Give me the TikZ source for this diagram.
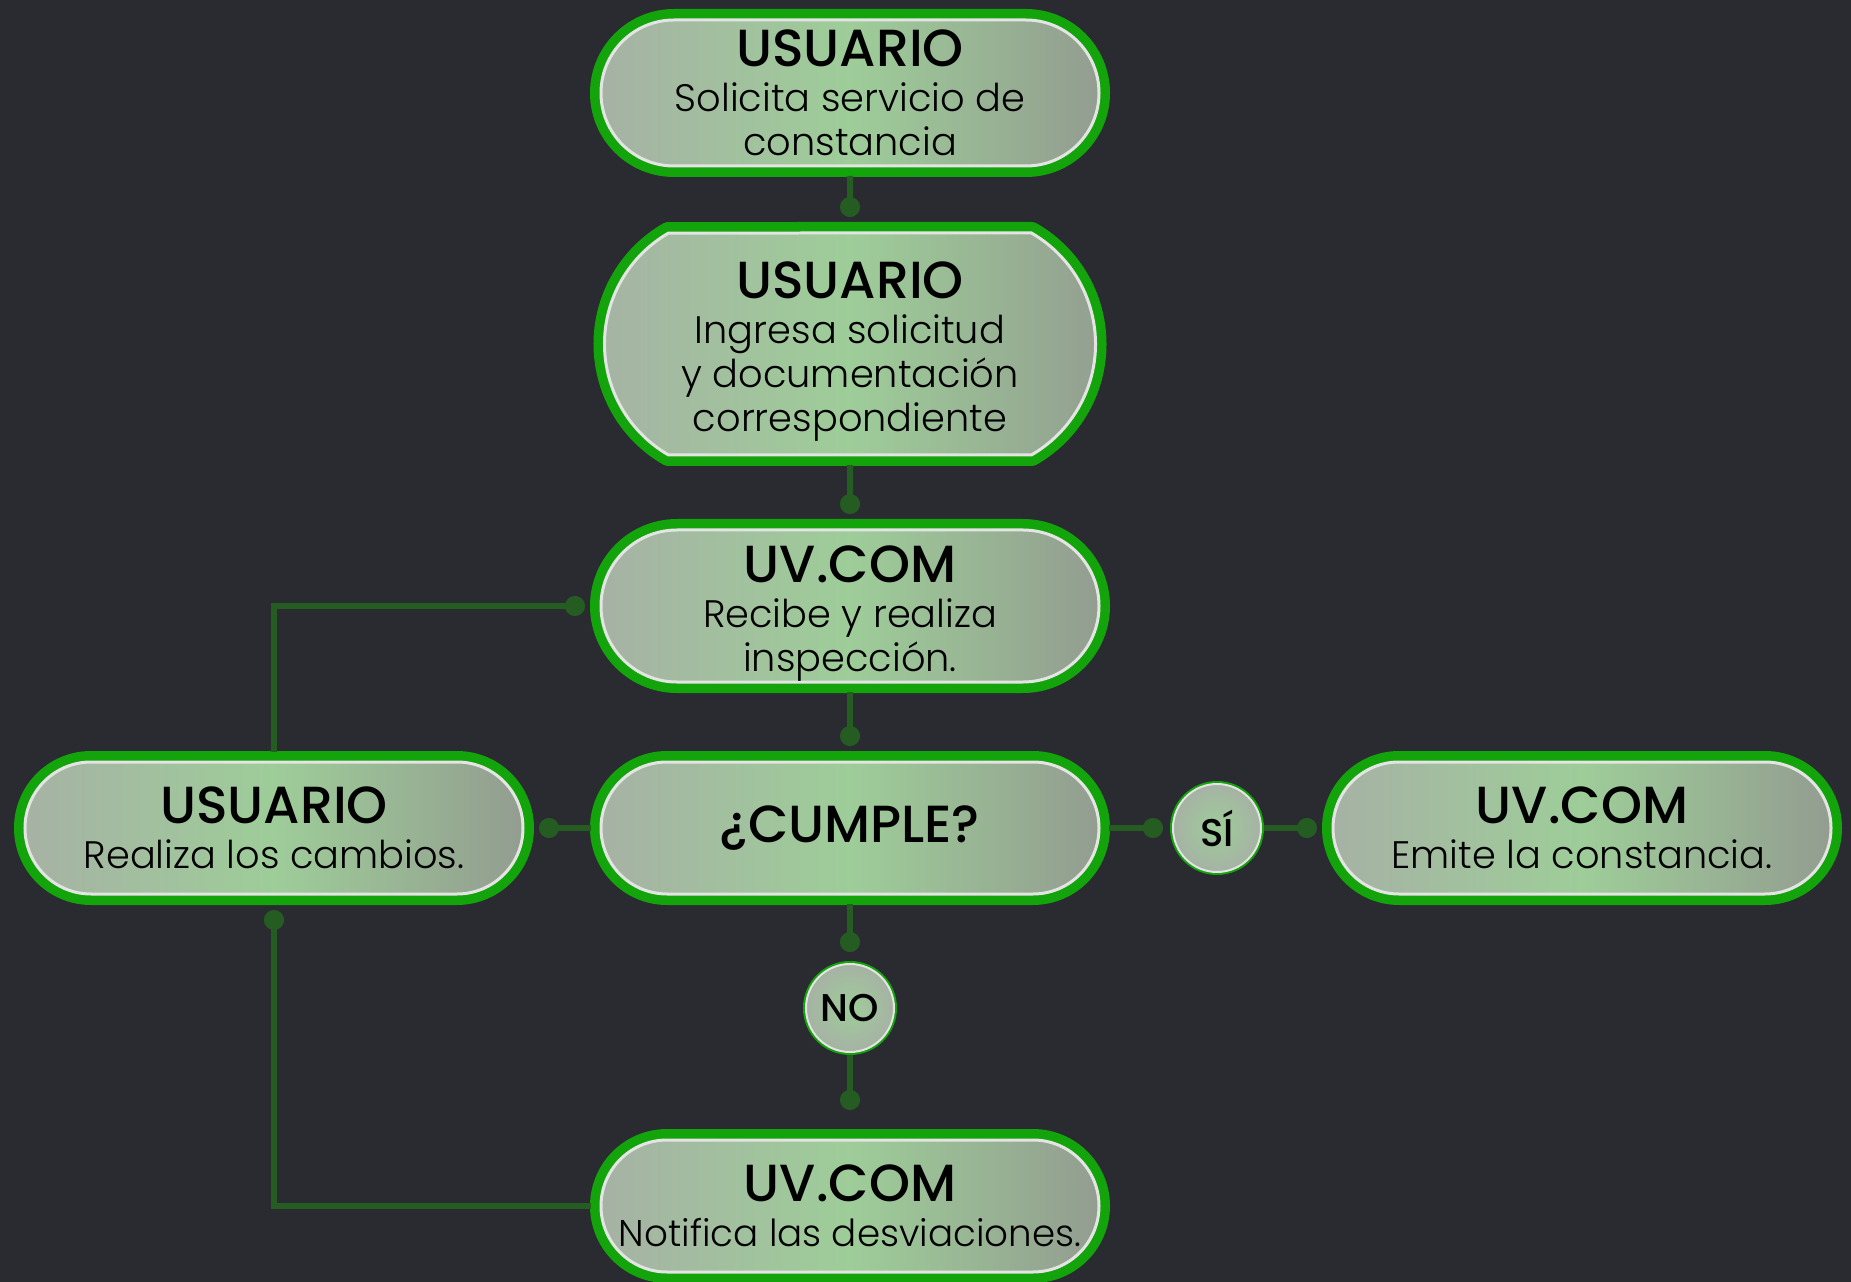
\documentclass[tikz,border=0pt]{standalone}
\usepackage{fontspec}
\setmainfont{Poppins}[UprightFont=* Light, BoldFont=* Medium]
\usetikzlibrary{positioning, arrows.meta, shapes.misc}
\definecolor{fondo}{HTML}{2A2B30}
\definecolor{verdeborde}{HTML}{12A40A}
\definecolor{verdelinea}{HTML}{245C22}
\definecolor{anillo}{HTML}{E4E4E4}
\definecolor{rellenoizq}{HTML}{A6B2A4}
\definecolor{rellenomed}{HTML}{9ECD99}
\definecolor{rellenoder}{HTML}{939D90}

\newcommand{\titulo}[1]{{\bfseries\fontsize{29.7}{30}\selectfont #1}}

\begin{document}
\begin{tikzpicture}[
	base/.style={preaction={draw=verdeborde, line width=0.44cm, line join=round}, draw=anillo, line width=0.06cm,
		left color=rellenoizq, right color=rellenoder, middle color=rellenomed,
		align=center, outer sep=0pt, text=black, font=\fontsize{21.8}{25.3}\selectfont,
		minimum width=9.96cm, inner xsep=2pt},
	paso/.style={base, rectangle, rounded corners=#1/2, minimum height=#1},
	pasocurvo/.style={base, rounded rectangle, rounded rectangle arc length=120, minimum height=4.44cm},
	respuesta/.style={circle, minimum size=1.76cm, inner sep=0pt, outer sep=0pt,
		preaction={draw=verdeborde, line width=0.12cm}, draw=anillo, line width=0.04cm,
		inner color=rellenomed, outer color=rellenoizq, text=black, font=\bfseries\fontsize{22}{24}\selectfont},
	enlace/.style={draw=verdelinea, line width=0.12cm, -{Circle[length=0.4cm]}, shorten <=0.2cm, shorten >=0.32cm}]
			\fill[fondo] (0,0) rectangle (37.02,-25.64);
			\useasboundingbox (0,0) rectangle (37.02,-25.64);

			\node[paso=2.92cm] (solicita) at (17,-1.86) {\titulo{USUARIO}\\Solicita servicio de\\constancia};
			\node[pasocurvo, below = 1.34cm of solicita] (ingresa) {\rule{0pt}{1.05cm}\titulo{USUARIO}\\Ingresa solicitud\\y documentación\\correspondiente};
			\node[paso=3.04cm, inner ysep=0pt, below = 1.5cm of ingresa] (recibe) {\rule{0pt}{1.05cm}\titulo{UV.COM}\\Recibe y realiza\\inspección.};
			\node[paso=2.64cm, below = 1.6cm of recibe] (cumple) {\titulo{¿CUMPLE?}};
			\node[paso=2.64cm, left = 1.56cm of cumple] (realiza) {\titulo{USUARIO}\\Realiza los cambios.};
			\node[respuesta, right = 1.48cm of cumple] (si) {SÍ};
			\node[paso=2.64cm, right = 1.44cm of si] (emite) {\titulo{UV.COM}\\Emite la constancia.};
			\node[respuesta, below = 1.4cm of cumple] (no) {NO};
			\node[paso=2.64cm, font=\fontsize{21.2}{25.3}\selectfont, below = 1.76cm of no] (notifica) {\titulo{UV.COM}\\Notifica las desviaciones.};

			\draw (solicita) edge[enlace] (ingresa);
			\draw (ingresa) edge[enlace] (recibe);
			\draw (recibe) edge[enlace] (cumple);
			\draw (cumple) edge[enlace] (realiza);
			\draw (cumple) edge[enlace, shorten >=0.2cm] (si);
			\draw (si) edge[enlace, shorten <=0.06cm] (emite);
			\draw (cumple) edge[enlace, shorten >=0.24cm] (no);
			\draw (no) edge[enlace, shorten <=0.06cm, shorten >=0.6cm] (notifica);
			\draw[enlace] (realiza.north) |- (recibe.west);
			\draw[enlace] (notifica.west) -| (realiza.south);

		\end{tikzpicture}
\end{document}
